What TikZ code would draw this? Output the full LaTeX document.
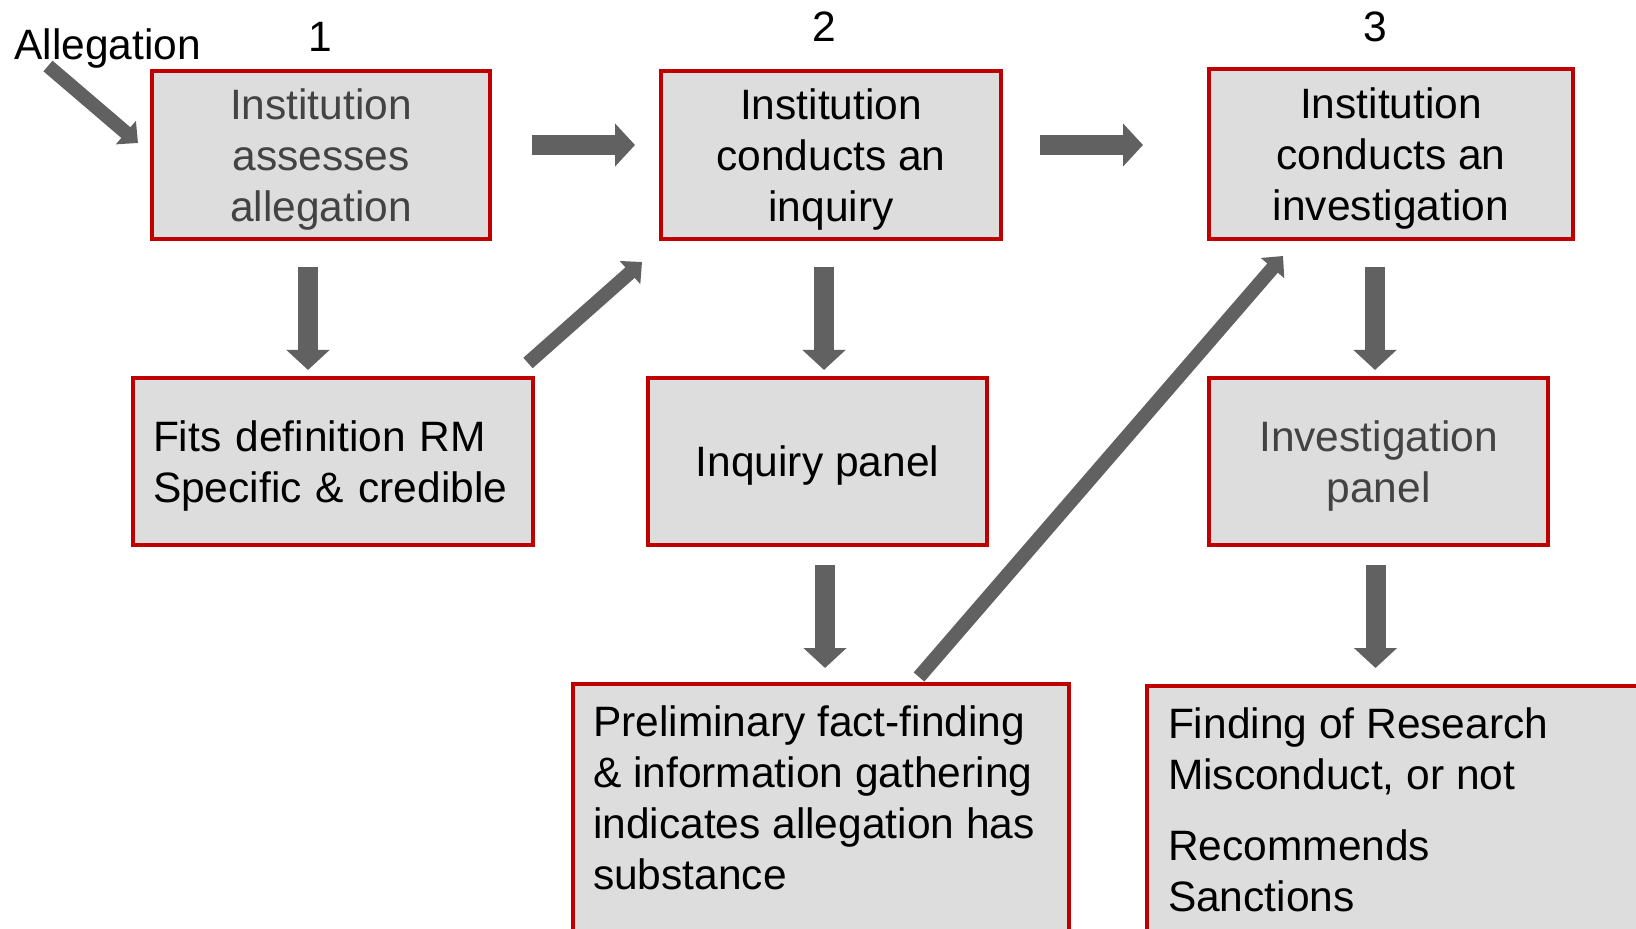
\documentclass[tikz,border=0pt]{standalone}
\usepackage{fontspec}
\setmainfont{Liberation Sans}
\usetikzlibrary{arrows.meta,calc}
\definecolor{boxred}{HTML}{C00000}
\definecolor{boxfill}{HTML}{DDDDDD}
\definecolor{arrowgray}{HTML}{616161}
\definecolor{textgray}{HTML}{434343}
\begin{document}
\begin{tikzpicture}[x=0.5pt,y=-0.5pt,
		font=\fontsize{21.25pt}{25.5pt}\selectfont,
		stagebox/.style={draw=boxred,fill=boxfill,line width=2pt,inner sep=0pt,outer sep=0pt,align=center},
		midbox/.style={stagebox,text depth=0pt},
		bigarrow/.style={draw=arrowgray,line width=10pt,-{Triangle[width=21pt,length=10pt]}},
		slantarrow/.style={draw=arrowgray,line width=7pt,-{Triangle[width=15pt,length=8pt]}}]
		\useasboundingbox (0,0) rectangle (1636,929);
		\clip (0,0) rectangle (1636,929);
		% stage numbers
		\node[anchor=base west,inner sep=0pt] (allegation) at (14,60) {Allegation};
		\node[anchor=base] (num1) at (320,52) {1};
		\node[anchor=base] (num2) at (824,42) {2};
		\node[anchor=base] (num3) at (1375,42) {3};
		% top row
		\node[midbox,minimum width=169pt,minimum height=84pt,text=textgray] (assess) at (321,155) {Institution\\assesses\\allegation};
		\node[midbox,minimum width=170pt,minimum height=84pt] (inquiry) at (831,155) {Institution\\conducts an\\inquiry};
		\node[midbox,minimum width=182pt,minimum height=85pt] (investigation) at (1391,154) {Institution\\conducts an\\investigation};
		% middle row
		\node[stagebox,minimum width=200pt,minimum height=83.5pt,align=left,text width=180pt,text depth=25.5pt] (fits) at (333,461.5) {Fits definition RM\\Specific \& credible};
		\node[midbox,minimum width=169.5pt,minimum height=83.5pt] (inqpanel) at (817.5,461.5) {Inquiry panel};
		\node[midbox,minimum width=169.5pt,minimum height=83.5pt,text=textgray] (invpanel) at (1378.5,461.5) {Investigation\\panel};
		% bottom row
		\node[stagebox,anchor=north west,inner xsep=10pt,inner ysep=11pt] (factfinding) at (573,684) {\parbox[t][130pt][t]{228pt}{\raggedright Preliminary fact-finding\\ \& information gathering\\ indicates allegation has\\ substance}};
		\node[stagebox,anchor=north west,inner xsep=10.5pt,inner ysep=11pt] (finding) at (1147,686) {\parbox[t][130pt][t]{230pt}{\raggedright Finding of Research\\ Misconduct, or not\\[10pt] Recommends\\ Sanctions}};
		% arrows
		\draw[slantarrow] ($(allegation.base west)+(34,6)$) -- ($(assess.west)+(-14,-12)$);
		\draw[bigarrow] ($(assess.east)+(42,-10)$) -- ($(inquiry.west)+(-26,-10)$);
		\draw[bigarrow] ($(inquiry.east)+(39,-10)$) -- ($(investigation.west)+(-66,-9)$);
		\draw[bigarrow] ($(assess.south)+(-13,28)$) -- ($(fits.north)+(-25,-8)$);
		\draw[slantarrow] ($(fits.north east)+(-5,-15)$) -- ($(inquiry.south west)+(-19,23)$);
		\draw[bigarrow] ($(inquiry.south)+(-7,28)$) -- ($(inqpanel.north)+(6.5,-8)$);
		\draw[bigarrow] ($(inqpanel.south)+(7.5,20)$) -- ($(factfinding.north)+(4,-16)$);
		\draw[slantarrow] ($(factfinding.north)+(98,-7)$) -- ($(investigation.south west)+(74,17)$);
		\draw[bigarrow] ($(investigation.south)+(-16,28)$) -- ($(invpanel.north)+(-3.5,-8)$);
		\draw[bigarrow] ($(invpanel.south)+(-3,20)$) -- ($(finding.north)+(-22.5,-18)$);
\end{tikzpicture}
\end{document}
